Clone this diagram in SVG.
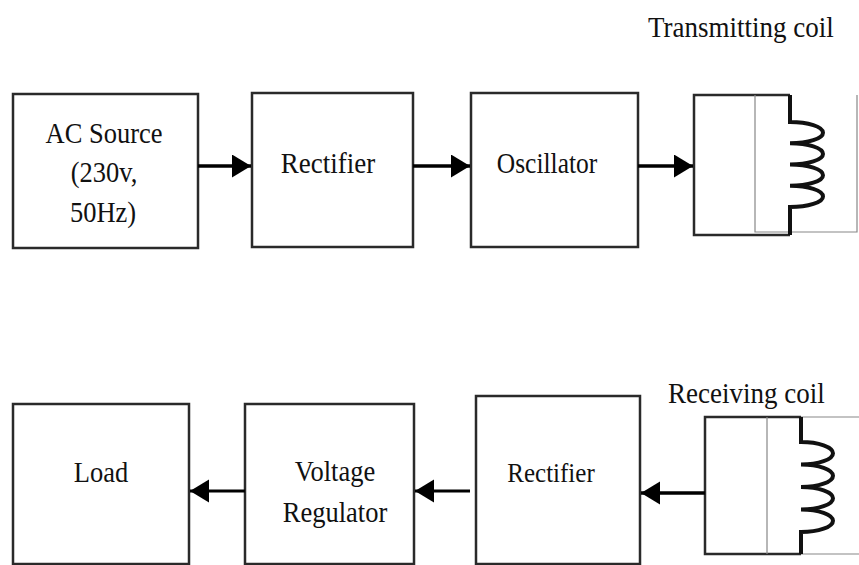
<svg xmlns="http://www.w3.org/2000/svg" width="859" height="565" viewBox="0 0 859 565">
<style>
.box{fill:#fff;stroke:#2a2a2a;stroke-width:2.5}
.t{font-family:"Liberation Serif","Times New Roman",serif;font-size:26.5px;fill:#111;text-anchor:middle}
.tl{font-family:"Liberation Serif","Times New Roman",serif;font-size:27px;fill:#111}
.conn{stroke:#000;stroke-width:3.5;fill:none}
.conn2{stroke:#000;stroke-width:2.8;fill:none}
.frame{stroke:#2a2a2a;stroke-width:2.5;fill:none}
.thin{stroke:#888;stroke-width:1.2;fill:none}
.coil{stroke:#111;stroke-width:4;fill:none}
</style>
<defs>
<marker id="ah" markerUnits="userSpaceOnUse" markerWidth="20" markerHeight="24" refX="19" refY="11.5" orient="auto">
<path d="M0,0 L19,11.5 L0,23 Z" fill="#000"/>
</marker>
</defs>
<rect width="859" height="565" fill="#fff"/>

<g id="ac-source">
<rect class="box" x="13" y="94" width="185" height="154"/>
<text class="t" transform="translate(104,143) scale(1,1.12)">AC Source</text>
<text class="t" transform="translate(104,182) scale(1,1.12)">(230v,</text>
<text class="t" transform="translate(103,222) scale(1,1.12)">50Hz)</text>
</g>
<g id="rectifier-top">
<rect class="box" x="252" y="93" width="161" height="154"/>
<text class="t" transform="translate(328,173) scale(1,1.12)" style="font-size:27px">Rectifier</text>
</g>
<g id="oscillator">
<rect class="box" x="471" y="93" width="167" height="154"/>
<text class="t" transform="translate(547,173) scale(1,1.12)" style="font-size:25.5px">Oscillator</text>
</g>
<g id="transmitting-coil">
<path class="frame" d="M790,95 H694 V235 H790"/>
<path class="thin" d="M755,95 V232 H857 V95"/>
<path class="coil" d="M790,95 V122 a33 10.625 0 0 1 0 21.25 a33 10.625 0 0 1 0 21.25 a33 10.625 0 0 1 0 21.25 a33 10.625 0 0 1 0 21.25 V235"/>
<text class="tl" transform="translate(648,37) scale(1,1.12)">Transmitting coil</text>
</g>

<g id="load">
<rect class="box" x="13" y="404" width="176" height="160"/>
<text class="t" transform="translate(101,482) scale(1,1.12)">Load</text>
</g>
<g id="voltage-regulator">
<rect class="box" x="245" y="404" width="169" height="160"/>
<text class="t" transform="translate(335,481) scale(1,1.12)">Voltage</text>
<text class="t" transform="translate(335,522) scale(1,1.12)">Regulator</text>
</g>
<g id="rectifier-bottom">
<rect class="box" x="476" y="396" width="164" height="168"/>
<text class="t" transform="translate(551,482) scale(1,1.12)" style="font-size:25px">Rectifier</text>
</g>
<g id="receiving-coil">
<path class="frame" d="M801,417 H705 V554 H801"/>
<path class="thin" d="M767,417 V554 M801,417 H859 M801,554 H859"/>
<path class="coil" d="M801,417 V442 a32 11.25 0 0 1 0 22.5 a32 11.25 0 0 1 0 22.5 a32 11.25 0 0 1 0 22.5 a32 11.25 0 0 1 0 22.5 V554"/>
<text class="tl" transform="translate(668,403) scale(1,1.12)">Receiving coil</text>
</g>

<g id="connectors">
<line class="conn" x1="198" y1="166" x2="251" y2="166" marker-end="url(#ah)"/>
<line class="conn" x1="413" y1="166" x2="470" y2="166" marker-end="url(#ah)"/>
<line class="conn" x1="638" y1="166" x2="693" y2="166" marker-end="url(#ah)"/>
<line class="conn" x1="705" y1="493" x2="641" y2="493" marker-end="url(#ah)"/>
<line class="conn2" x1="470" y1="491" x2="415" y2="491" marker-end="url(#ah)"/>
<line class="conn2" x1="245" y1="491" x2="190" y2="491" marker-end="url(#ah)"/>
</g>
</svg>
